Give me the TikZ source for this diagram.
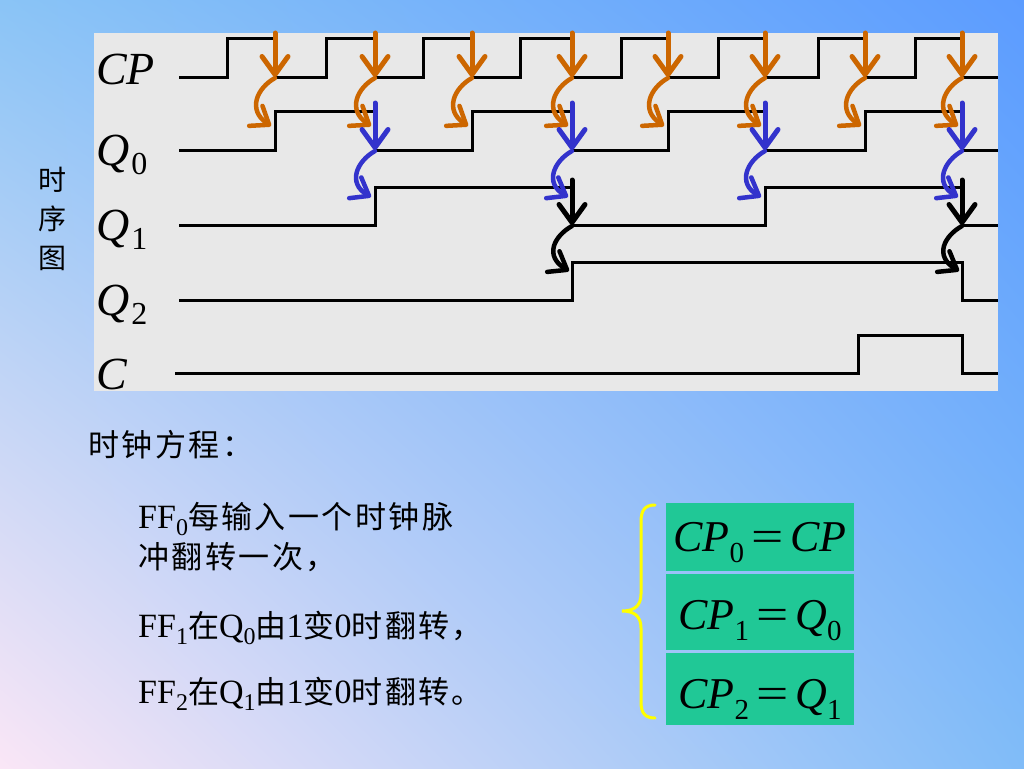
\documentclass[tikz,border=0pt]{standalone}
\usepackage{fontspec}
\setmainfont{Liberation Serif}
\newfontfamily\cjk{Noto Sans CJK SC}
\newfontfamily\cjkw[LetterSpace=8]{Noto Sans CJK SC}
\usetikzlibrary{arrows.meta,shadings}
\definecolor{bgUL}{RGB}{138,196,246}
\definecolor{bgUR}{RGB}{92,156,255}
\definecolor{bgLL}{RGB}{250,230,246}
\definecolor{bgLR}{RGB}{128,188,248}
\definecolor{panelgray}{RGB}{232,232,232}
\definecolor{orangeA}{RGB}{204,102,0}
\definecolor{blueA}{RGB}{51,51,204}
\definecolor{eqgreen}{RGB}{32,200,150}
\definecolor{braceY}{RGB}{255,255,0}
\newcommand\zh[1]{{\cjkw\fontsize{31}{40}\selectfont #1}}
\newcommand\lowsub[2]{\raisebox{-#1pt}{\fontsize{24}{24}\selectfont #2}}
\newcommand\lblsub[1]{\hspace{2pt}\raisebox{-9pt}{\fontsize{32}{32}\selectfont #1}}
\newcommand\eqsub[1]{\raisebox{-11pt}{\fontsize{29}{29}\selectfont #1}}
\newcommand\eqsign{\hspace{7pt}\scalebox{1.3}[1]{=}\hspace{7pt}}
\begin{document}
\begin{tikzpicture}[x=1pt,y=-1pt,
  wave/.style={line width=3pt, black, line join=miter},
  stemarrow/.style={line width=5pt, line cap=round, -{Straight Barb[length=18pt,width=26pt,round]}},
  squig/.style={line width=4.5pt, line cap=round, -{Straight Barb[length=16pt,width=24pt,round]}},
  lbl/.style={font=\fontsize{46}{46}\selectfont, inner sep=0pt},
  zhtext/.style={font=\fontsize{34}{40}\selectfont, inner sep=0pt, anchor=base west},
  eqbox/.style={fill=eqgreen, minimum width=188pt, inner sep=0pt},
  eqtext/.style={font=\fontsize{44}{44}\selectfont, inner sep=0pt, anchor=base}
]
\useasboundingbox (0pt,0pt) rectangle (1024pt,-768pt);
\shade[upper left=bgUL, upper right=bgUR, lower left=bgLL, lower right=bgLR] (0pt,0pt) rectangle (1024pt,-768pt);
% panel
\fill[panelgray] (94,33) rectangle (998,391);

% waveforms
\draw[wave] (179,77) -- (227,77) -- (227,39) -- (275,39) -- (275,77)
  -- (326,77) -- (326,39) -- (375,39) -- (375,77)
  -- (423,77) -- (423,39) -- (472,39) -- (472,77)
  -- (520,77) -- (520,39) -- (572,39) -- (572,77)
  -- (621,77) -- (621,39) -- (668,39) -- (668,77)
  -- (718,77) -- (718,39) -- (765,39) -- (765,77)
  -- (818,77) -- (818,39) -- (865,39) -- (865,77)
  -- (915,77) -- (915,39) -- (962,39) -- (962,77) -- (998,77);
\draw[wave] (179,150) -- (275,150) -- (275,111) -- (375,111) -- (375,150)
  -- (472,150) -- (472,111) -- (572,111) -- (572,150)
  -- (668,150) -- (668,111) -- (765,111) -- (765,150)
  -- (865,150) -- (865,111) -- (962,111) -- (962,150) -- (998,150);
\draw[wave] (179,225) -- (375,225) -- (375,187) -- (572,187) -- (572,225)
  -- (765,225) -- (765,187) -- (962,187) -- (962,225) -- (998,225);
\draw[wave] (179,300) -- (572,300) -- (572,262) -- (962,262) -- (962,300) -- (998,300);
\draw[wave] (175,373) -- (858,373) -- (858,335) -- (962,335) -- (962,373) -- (998,373);

% trigger arrows
\foreach \x in {275,375,472,572,668,765,865,962} {
  \draw[stemarrow, orangeA] (\x,33) -- (\x,77);
  \draw[squig, orangeA] (\x,78) .. controls (\x-18,88) and (\x-28,110) .. (\x-4,126);
}
\foreach \x in {375,572,765,962} {
  \draw[stemarrow, blueA] (\x,103) -- (\x,150);
  \draw[squig, blueA] (\x,151) .. controls (\x-18,161) and (\x-28,183) .. (\x-4,197);
}
\foreach \x in {572,962} {
  \draw[stemarrow, black] (\x,180) -- (\x,225);
  \draw[squig, black] (\x,226) .. controls (\x-18,236) and (\x-28,256) .. (\x-3,271);
}

% waveform labels
\node[lbl, anchor=base west] (lcp) at (96,84) {\textit{CP}};
\node[lbl, anchor=base west] (lq0) at (96,165) {\textit{Q}\lblsub{0}};
\node[lbl, anchor=base west] (lq1) at (96,240) {\textit{Q}\lblsub{1}};
\node[lbl, anchor=base west] (lq2) at (96,315) {\textit{Q}\lblsub{2}};
\node[lbl, anchor=base west] (lc) at (96,389) {\textit{C}};

% side label
\node[font=\cjk\fontsize{28}{39}\selectfont, align=center, inner sep=0pt] (side) at (52,219) {时\\序\\图};

% clock equations text
\node[zhtext] (title) at (88,456) {\zh{时钟方程：}};
\node[zhtext, align=left] (t1) at (138,568) {FF\lowsub{7}{0}\zh{每输入一个时钟脉}\\\zh{冲翻转一次，}};
\node[zhtext] (t3) at (138,637) {FF\lowsub{7}{1}\zh{在}Q\lowsub{7}{0}\zh{由}1\zh{变}0\zh{时翻转，}};
\node[zhtext] (t4) at (138,703) {FF\lowsub{7}{2}\zh{在}Q\lowsub{7}{1}\zh{由}1\zh{变}0\zh{时翻转。}};

% equation boxes
\node[eqbox, minimum height=68pt] (b1) at (760,537) {};
\node[eqbox, minimum height=76pt] (b2) at (760,612) {};
\node[eqbox, minimum height=72pt] (b3) at (760,689) {};
\node[eqtext] (e1) at (760,551) {\textit{CP}\eqsub{0}\eqsign\textit{CP}};
\node[eqtext] (e2) at (760,629) {\textit{CP}\eqsub{1}\eqsign\textit{Q}\eqsub{0}};
\node[eqtext] (e3) at (760,708) {\textit{CP}\eqsub{2}\eqsign\textit{Q}\eqsub{1}};

% brace
\draw[braceY, line width=3pt, line cap=round]
  (655,505) .. controls (645,505) and (641,510) .. (641,522) -- (641,594)
  .. controls (641,606) and (634,611) .. (622,611)
  .. controls (634,611) and (641,616) .. (641,628) -- (641,702)
  .. controls (641,713) and (645,718) .. (655,718);
\end{tikzpicture}
\end{document}
